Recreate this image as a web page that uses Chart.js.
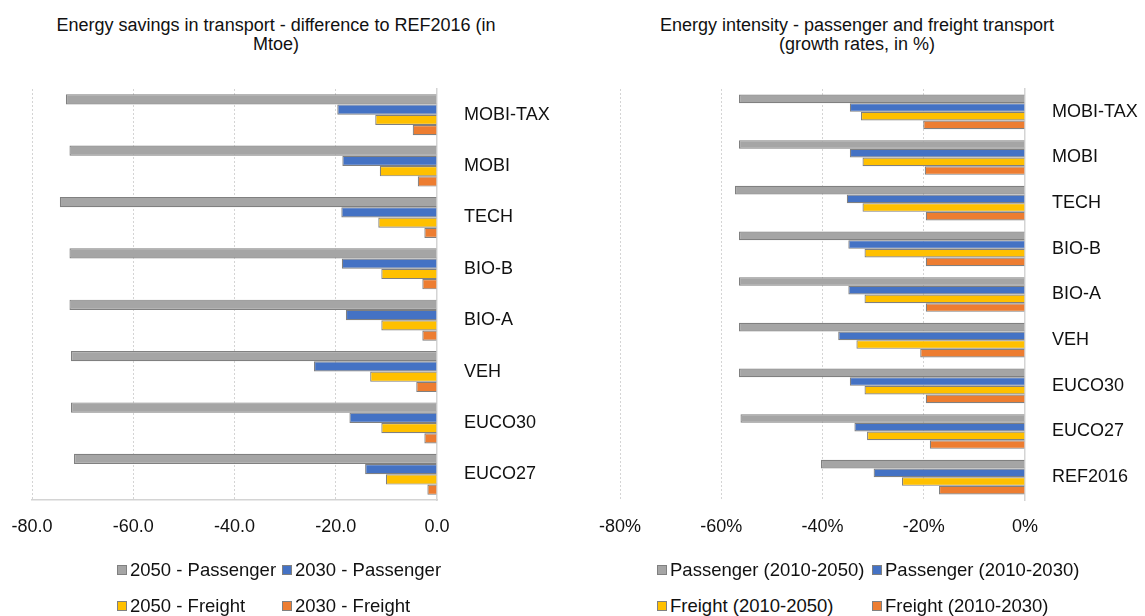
<!DOCTYPE html>
<html>
<head>
<meta charset="utf-8">
<script src="https://cdn.jsdelivr.net/npm/chart.js@4"></script>
<style>
  html, body { margin: 0; padding: 0; background: #fff; }
  body { width: 1145px; height: 616px; position: relative; overflow: hidden; font-family: "Liberation Sans", Arial, sans-serif; color: #111; }
  canvas { position: absolute; top: 0; }
  .title { position: absolute; font-size: 18px; line-height: 19px; text-align: center; white-space: nowrap; }
  .leg { position: absolute; font-size: 18.5px; line-height: 20px; white-space: nowrap; }
  .leg i { position: absolute; left: -13px; top: 5px; width: 8px; height: 8px; border: 1px solid #808080; }
</style>
</head>
<body>
<div class="title" id="t1" style="left:46px; width:460px; top:16px;">Energy savings in transport - difference to REF2016 (in<br>Mtoe)</div>
<div class="title" id="t2" style="left:657px; width:400px; top:16px;">Energy intensity - passenger and freight transport<br>(growth rates, in %)</div>
<canvas id="c1" width="575" height="560" style="left:0px"></canvas>
<canvas id="c2" width="570" height="560" style="left:575px"></canvas>
<div id="legends"></div>
<script>
// ---- data ----
const categoriesLeft = ['MOBI-TAX', 'MOBI', 'TECH', 'BIO-B', 'BIO-A', 'VEH', 'EUCO30', 'EUCO27'];
const passenger2050 = [-73.3, -72.6, -74.5, -72.6, -72.6, -72.3, -72.3, -71.7];
const passenger2030 = [-19.7, -18.7, -18.9, -18.8, -18.0, -24.3, -17.3, -14.2];
const freight2050 = [-12.2, -11.3, -11.6, -11.0, -11.0, -13.2, -11.0, -10.1];
const freight2030 = [-4.8, -3.8, -2.5, -2.9, -2.9, -4.1, -2.5, -1.9];
const leftLabels = ['2050 - Passenger', '2030 - Passenger', '2050 - Freight', '2030 - Freight'];

const categoriesRight = ['MOBI-TAX', 'MOBI', 'TECH', 'BIO-B', 'BIO-A', 'VEH', 'EUCO30', 'EUCO27', 'REF2016'];
const intPassenger2050 = [-56.5, -56.5, -57.3, -56.5, -56.5, -56.5, -56.5, -56.2, -40.3];
const intPassenger2030 = [-34.6, -34.6, -35.2, -34.9, -34.9, -36.9, -34.6, -33.7, -29.9];
const intFreight2050 = [-32.4, -32.1, -32.1, -31.7, -31.7, -33.3, -31.7, -31.2, -24.3];
const intFreight2030 = [-20.1, -19.8, -19.6, -19.6, -19.6, -20.7, -19.6, -18.8, -17.0];
const rightLabels = ['Passenger (2010-2050)', 'Passenger (2010-2030)', 'Freight (2010-2050)', 'Freight (2010-2030)'];

const xTicksLeft = [-80, -60, -40, -20, 0];
const xTicksRight = [-80, -60, -40, -20, 0];

// ---- styles ----
const colors = ['#A5A5A5', '#4472C4', '#FFC000', '#ED7D31'];
const FONT = '"Liberation Sans", Arial, sans-serif';

function makeDatasets(labels, arrays, catPct) {
  return arrays.map((d, i) => ({
    label: labels[i],
    data: d,
    backgroundColor: colors[i],
    borderColor: '#808080',
    borderWidth: 1.2,
    categoryPercentage: catPct,
    barPercentage: 1.0
  }));
}

function makeChart(id, cats, datasets, opts) {
  return new Chart(document.getElementById(id), {
    type: 'bar',
    data: { labels: cats, datasets: datasets },
    options: {
      indexAxis: 'y',
      responsive: false,
      animation: false,
      devicePixelRatio: 1,
      layout: { padding: { left: opts.padLeft, top: 89, right: 0, bottom: 0 } },
      plugins: { legend: { display: false }, title: { display: false }, tooltip: { enabled: false } },
      scales: {
        x: {
          type: 'linear',
          min: -80, max: 0,
          afterBuildTicks: (s) => { s.ticks = opts.ticks.map(v => ({ value: v })); },
          afterFit: (s) => { s.height = 60; s.paddingLeft = 0; s.paddingRight = 0; },
          ticks: {
            padding: 16,
            color: '#111',
            font: { family: FONT, size: 18 },
            callback: opts.fmt
          },
          grid: {
            drawTicks: false,
            color: (ctx) => (ctx.tick && ctx.tick.value === 0) ? 'rgba(0,0,0,0)' : '#d4d4d4',
            lineWidth: 1
          },
          border: { display: opts.bottomBorder, color: '#d4d4d4', width: 1.5, dash: [2, 2] }
        },
        y: {
          type: 'category',
          position: 'right',
          afterFit: (s) => { s.width = opts.yWidth; },
          ticks: {
            padding: 27,
            color: '#111',
            font: { family: FONT, size: 18 }
          },
          grid: { display: false, drawTicks: false },
          border: { display: true, color: '#d4d4d4', width: 1.5 }
        }
      }
    }
  });
}

makeChart('c1', categoriesLeft,
  makeDatasets(leftLabels, [passenger2050, passenger2030, freight2050, freight2030], 0.8),
  { padLeft: 32, yWidth: 138, ticks: xTicksLeft, fmt: (v) => Number(v).toFixed(1), bottomBorder: true });

makeChart('c2', categoriesRight,
  makeDatasets(rightLabels, [intPassenger2050, intPassenger2030, intFreight2050, intFreight2030], 0.76),
  { padLeft: 45, yWidth: 120, ticks: xTicksRight, fmt: (v) => v + '%', bottomBorder: false });

// ---- legends (HTML, 2x2 grid) ----
function legend(labels, colX, rowTop) {
  const host = document.getElementById('legends');
  labels.forEach((lab, i) => {
    const d = document.createElement('div');
    d.className = 'leg';
    d.style.left = colX[i % 2] + 'px';
    d.style.top = rowTop[Math.floor(i / 2)] + 'px';
    const box = document.createElement('i');
    box.style.background = colors[i];
    d.appendChild(box);
    d.appendChild(document.createTextNode(lab));
    host.appendChild(d);
  });
}
legend(leftLabels, [130, 295], [560, 596]);
legend(rightLabels, [670, 885], [560, 596]);
</script>
</body>
</html>
